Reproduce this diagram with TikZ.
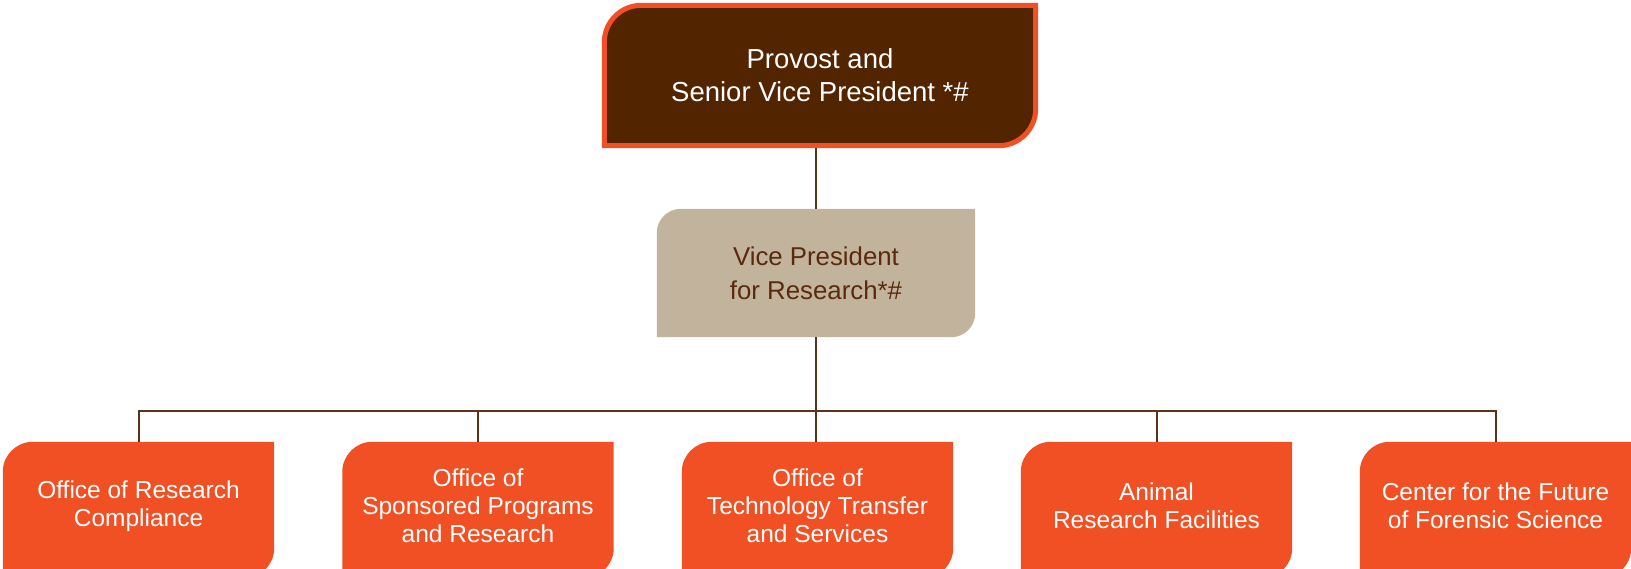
\documentclass[tikz,border=0pt]{standalone}
\usepackage{fontspec}
\setmainfont{Liberation Sans}
\usetikzlibrary{backgrounds}
\definecolor{orng}{HTML}{F05023}
\definecolor{dbrown}{HTML}{532400}
\definecolor{tanfill}{HTML}{C2B49C}
\definecolor{vptext}{HTML}{5A2A0C}
\definecolor{linec}{HTML}{5A3418}
% name, radius, bottom extension, path options
\newcommand\cornerpath[4]{%
  \path[#4] ([yshift=-#3]#1.south west) -- ([yshift=-#2]#1.north west)
    arc[start angle=180,end angle=90,radius=#2] -- (#1.north east)
    -- ([yshift=#2-#3]#1.south east)
    arc[start angle=0,end angle=-90,radius=#2] -- cycle;}
\tikzset{
  box/.style={rectangle, inner sep=0pt, align=center, draw=none},
  topbox/.style={box, minimum width=431, minimum height=140, text=white,
    font=\fontsize{27.5}{33}\selectfont},
  vpbox/.style={box, minimum width=318, minimum height=128, text=vptext,
    font=\fontsize{25.8}{34}\selectfont},
  leafbox/.style={box, minimum width=271, minimum height=128, text=white,
    font=\fontsize{24.5}{28}\selectfont},
  conn/.style={draw=linec, line width=2pt}
}
\begin{document}
\begin{tikzpicture}[x=1pt,y=1pt]
\useasboundingbox (0,0) rectangle (1631,-568);
\node[topbox] (top) at (820,-75.5) {Provost and\\Senior Vice President *\#};
\node[vpbox] (vp) at (816,-273) {Vice President\\for Research*\#};
\node[leafbox] (b1) at (138.5,-506) {Office of Research\\Compliance};
\node[leafbox] (b2) at (478,-506) {Office of\\Sponsored Programs\\and Research};
\node[leafbox] (b3) at (817.5,-506) {Office of\\Technology Transfer\\and Services};
\node[leafbox] (b4) at (1156.5,-506) {Animal\\Research Facilities};
\node[leafbox] (b5) at (1495.5,-506) {Center for the Future\\of Forensic Science};
\coordinate (bus) at (817,-411);
\begin{scope}[on background layer]
  \clip (0,0) rectangle (1631,-568);
  \cornerpath{top}{37}{0}{fill=dbrown, draw=orng, line width=5pt}
  \cornerpath{vp}{24}{0}{fill=tanfill}
  \cornerpath{b1}{30}{8}{fill=orng}
  \cornerpath{b2}{30}{8}{fill=orng}
  \cornerpath{b3}{30}{8}{fill=orng}
  \cornerpath{b4}{30}{8}{fill=orng}
  \cornerpath{b5}{30}{8}{fill=orng}
\end{scope}
\draw[conn] ([yshift=-2.5pt]vp.north |- top.south) -- (vp.north);
\draw[conn] (vp.south) -- (vp.south |- b3.north);
\draw[conn] (b1.north) -- (b1.north |- bus) -- (b5.north |- bus) -- (b5.north);
\draw[conn] (b2.north) -- (b2.north |- bus);
\draw[conn] (b4.north) -- (b4.north |- bus);
\end{tikzpicture}
\end{document}
